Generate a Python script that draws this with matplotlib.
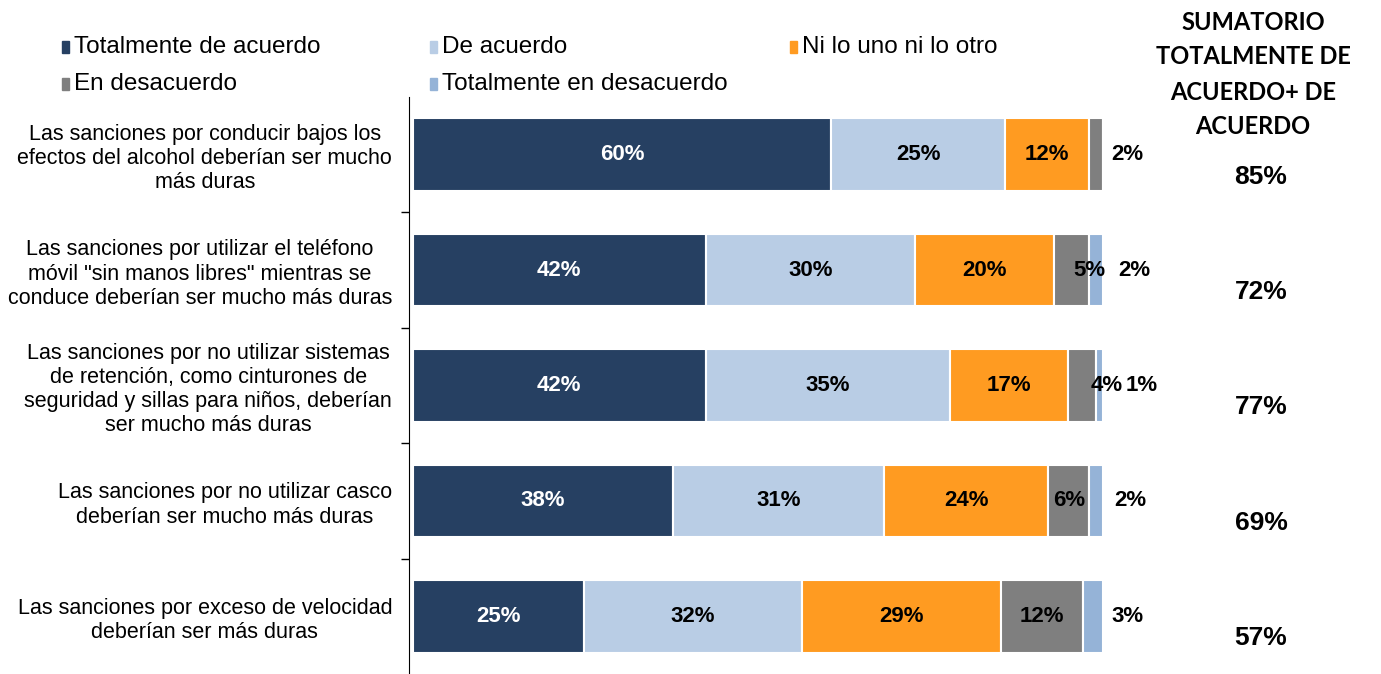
import matplotlib
matplotlib.use('Agg')
import matplotlib.pyplot as plt
from matplotlib.patches import Rectangle
import numpy as np

# Data
categories = [
    'Las sanciones por conducir bajos los\nefectos del alcohol deberían ser mucho\nmás duras',
    'Las sanciones por utilizar el teléfono\nmóvil "sin manos libres" mientras se\nconduce deberían ser mucho más duras',
    'Las sanciones por no utilizar sistemas\nde retención, como cinturones de\nseguridad y sillas para niños, deberían\nser mucho más duras',
    'Las sanciones por no utilizar casco\ndeberían ser mucho más duras',
    'Las sanciones por exceso de velocidad\ndeberían ser más duras',
]
series_names = ['Totalmente de acuerdo', 'De acuerdo', 'Ni lo uno ni lo otro',
                'En desacuerdo', 'Totalmente en desacuerdo']
totalmente_acuerdo = [60, 42, 42, 38, 25]
de_acuerdo = [25, 30, 35, 31, 32]
ni_uno_ni_otro = [12, 20, 17, 24, 29]
en_desacuerdo = [2, 5, 4, 6, 12]
totalmente_desacuerdo = [0, 2, 1, 2, 3]
sumatorio = [85, 72, 77, 69, 57]

colors = ['#264062', '#B9CDE5', '#FF9B21', '#7F7F7F', '#95B3D7']
label_colors = ['white', 'black', 'black', 'black', 'black']

# hand-placed labels for the small segments (row, series) -> x in axis fraction
small_label_x = {(0, 3): 1.035, (1, 3): 0.98, (1, 4): 1.046,
                 (2, 3): 1.006, (2, 4): 1.056, (3, 4): 1.04, (4, 4): 1.035}

data = np.array([totalmente_acuerdo, de_acuerdo, ni_uno_ni_otro,
                 en_desacuerdo, totalmente_desacuerdo], dtype=float)
shares = data / data.sum(axis=0)

fig = plt.figure(figsize=(13.81, 6.74), dpi=100)
ax = fig.add_axes([413 / 1381, 0.0, 690 / 1381, 1 - 97 / 674])
for s in ['top', 'right', 'bottom']:
    ax.spines[s].set_visible(False)
ax.spines['left'].set_position(('outward', 3))

y = np.arange(len(categories))
left = np.zeros(len(categories))
for i in range(len(series_names)):
    ax.barh(y, shares[i], left=left, height=0.63, color=colors[i],
            edgecolor='white', linewidth=1.5, label=series_names[i])
    for j in range(len(categories)):
        if data[i, j] <= 0:
            continue
        if (j, i) in small_label_x:
            xpos = small_label_x[(j, i)]
        else:
            xpos = left[j] + shares[i, j] / 2
        ax.text(xpos, y[j], '%d%%' % data[i, j], ha='center', va='center',
                fontsize=16, fontweight='bold', color=label_colors[i],
                family='Liberation Sans', clip_on=False)
    left += shares[i]

ax.set_xlim(0, 1)
ax.set_ylim(len(categories) - 0.5, -0.5)
ax.set_xticks([])
ax.tick_params(axis='y', which='major', length=0, pad=12)
ax.tick_params(axis='y', which='minor', length=6, width=1)
ax.set_yticks(np.arange(0.5, len(categories) - 0.5, 1), minor=True)
ax.set_yticks(y)
ax.set_yticklabels(categories, fontsize=15.5, family='Liberation Sans',
                   multialignment='center', linespacing=1.2)

# Sum column
for j, v in enumerate(sumatorio):
    ax.text(1.229, y[j] + 0.19, '%d%%' % v, transform=ax.get_yaxis_transform(),
            ha='center', va='center', fontsize=19, fontweight='bold',
            family='Liberation Sans', clip_on=False)

header = ['SUMATORIO', 'TOTALMENTE DE', 'ACUERDO+ DE', 'ACUERDO']
for k, line in enumerate(header):
    fig.text(1253 / 1381, 1 - (22 + 35 * k) / 674, line, ha='center', va='center',
             fontsize=17, fontweight='bold', family='Lato')

# Legend (row-wise, like the original)
leg_pos = [(62, 47), (430, 47), (790, 47), (62, 84), (430, 84)]
for i, name in enumerate(series_names):
    px, py = leg_pos[i]
    fig.patches.append(Rectangle((px / 1381, 1 - (py + 6) / 674), 7 / 1381, 12 / 674,
                                 transform=fig.transFigure, color=colors[i]))
    fig.text((px + 12) / 1381, 1 - py / 674, name, ha='left', va='center',
             fontsize=17.5, family='Liberation Sans')

fig.savefig('out.png', dpi=100)
